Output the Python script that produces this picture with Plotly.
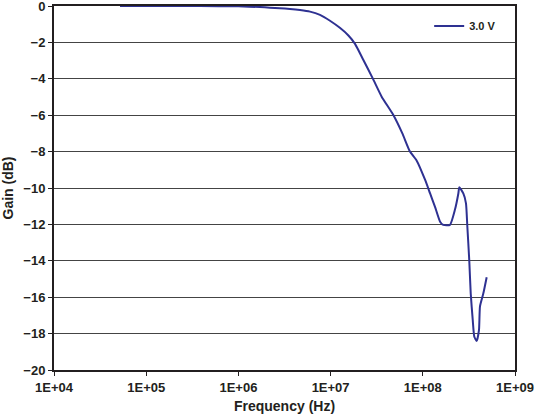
import plotly.graph_objects as go

# Frequency (Hz) and gain (dB)
frecuencia = [
    5.2e4, 3.83e5, 1.0e6, 1.71e6, 2.2e6, 2.82e6, 3.63e6, 4.66e6, 5.98e6,
    7.67e6, 9.85e6, 1.26e7, 1.56e7, 1.84e7, 2.26e7, 2.90e7, 3.58e7,
    4.79e7, 6.0e7, 7.26e7, 8.59e7, 1.06e8, 1.20e8, 1.36e8, 1.54e8,
    1.67e8, 1.97e8, 2.23e8, 2.43e8, 2.49e8, 2.75e8, 2.94e8, 3.04e8, 3.19e8,
    3.31e8, 3.48e8, 3.62e8, 3.85e8, 4.07e8, 4.17e8, 4.53e8, 4.93e8,
]
ganancia = [
    0.0, 0.0, -0.02, -0.06, -0.09, -0.12, -0.16, -0.22, -0.31,
    -0.49, -0.81, -1.2, -1.62, -2.08, -2.95, -4.03, -4.98,
    -5.99, -7.0, -8.0, -8.5, -9.56, -10.3, -11.05, -11.85,
    -12.03, -12.03, -11.2, -10.3, -9.96, -10.3, -10.84, -12.1, -13.96,
    -15.8, -17.25, -18.17, -18.4, -17.8, -16.5, -15.8, -14.9,
]

x_ticks = [1e4, 1e5, 1e6, 1e7, 1e8, 1e9]
x_labels = ["1E+04", "1E+05", "1E+06", "1E+07", "1E+08", "1E+09"]
y_ticks = [0, -2, -4, -6, -8, -10, -12, -14, -16, -18, -20]

fig = go.Figure()

fig.add_trace(
    go.Scatter(
        x=frecuencia,
        y=ganancia,
        mode="lines",
        name="3.0 V",
        line=dict(color="#2e3192", width=2, shape="spline", smoothing=0.5),
    )
)

familia = "Liberation Sans, Arial, sans-serif"
negro = "#231f20"
fuente_ticks = dict(family=familia, size=13, color=negro, weight="bold")

fig.update_xaxes(
    type="log",
    range=[4, 9],
    tickvals=x_ticks,
    ticktext=x_labels,
    ticks="outside",
    ticklen=4,
    tickcolor=negro,
    showgrid=False,
    showline=True,
    linecolor=negro,
    linewidth=2,
    mirror=True,
    automargin=False,
    ticklabeloverflow="allow",
    title=dict(text="<b>Frequency (Hz)</b>", standoff=8),
    tickfont=fuente_ticks,
)
fig.update_yaxes(
    range=[-20, 0],
    tickvals=y_ticks,
    ticks="outside",
    ticklen=4,
    tickcolor=negro,
    showgrid=True,
    gridcolor="#444444",
    gridwidth=1,
    zeroline=False,
    showline=True,
    linecolor=negro,
    linewidth=2,
    mirror=True,
    automargin=False,
    ticklabeloverflow="allow",
    title=dict(text="<b>Gain (dB)</b>", standoff=6),
    tickfont=fuente_ticks,
)

fig.update_layout(
    width=536,
    height=418,
    margin=dict(l=54, r=21, t=6, b=48, autoexpand=False),
    paper_bgcolor="white",
    plot_bgcolor="white",
    font=dict(family=familia, size=12, color=negro),
    showlegend=True,
    legend=dict(
        x=0.97, xanchor="right", y=0.985, yanchor="top",
        bgcolor="rgba(0,0,0,0)",
        font=dict(family=familia, size=11, color=negro, weight="bold"),
    ),
)

# quitar el margen por defecto del body para que la figura empiece en (0, 0)
fig.write_html(
    "out.html",
    config={"displayModeBar": False},
    post_script="document.body.style.margin='0';",
)
